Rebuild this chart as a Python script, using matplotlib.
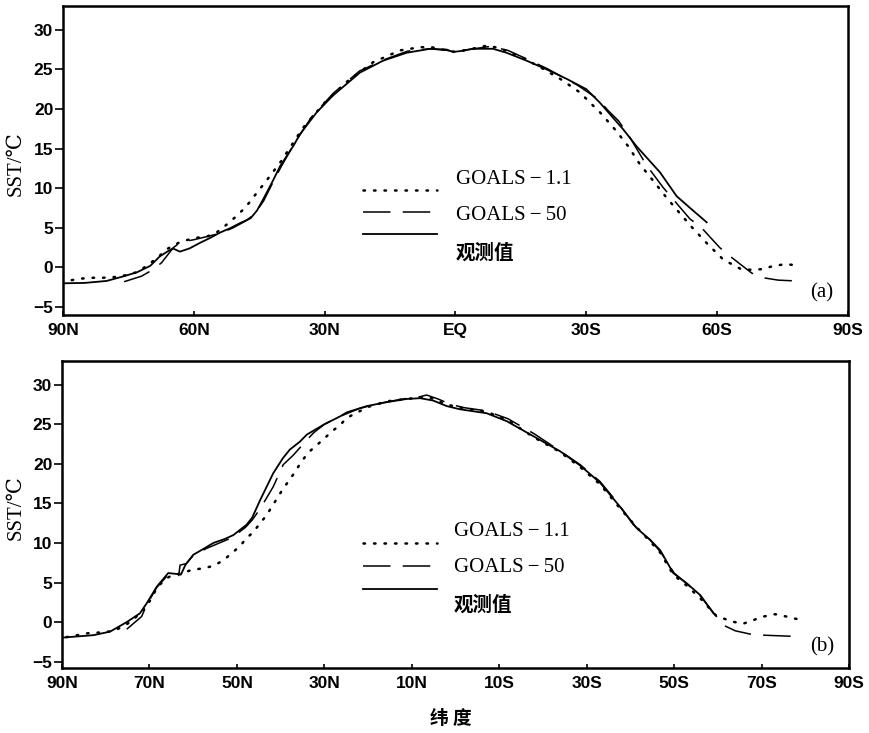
import matplotlib
matplotlib.use("Agg")
import matplotlib.pyplot as plt
from matplotlib.lines import Line2D

# ---------------- data (latitude: + = N, - = S ; SST in degC) ----------------
# panel (a)
a_obs_lat = [90, 85, 80, 76, 73, 70, 67.8, 65.8, 64.8, 63.2, 61, 58.6, 56, 54, 51.5, 49.4, 47, 45.5, 44.1, 42,
             40.2, 37, 35.7, 31.8, 28.1, 21.9, 16.6, 11.2, 5.8, 2, 0.6, -1, -4, -8.6, -11.7, -16.3, -20.9, -25.5,
             -30, -33.1, -38.5, -41.5, -46.9, -50.7, -53.8, -57.6]
a_obs_val = [-2.0, -1.95, -1.7, -1.1, -0.6, 0.2, 1.4, 2.1, 2.4, 2.0, 2.4, 3.1, 3.8, 4.4, 5.0, 5.6, 6.2, 7.2, 8.6, 10.8,
             12.8, 15.5, 16.8, 19.6, 21.7, 24.6, 26.1, 27.1, 27.6, 27.5, 27.2, 27.3, 27.6, 27.6, 27.1, 26.1, 25.0, 23.8,
             22.5, 20.8, 17.4, 15.3, 12.0, 9.0, 7.5, 5.7]

a_g11_lat = [88, 85.7, 83, 80.8, 78.1, 75.8, 73.1, 70.5, 67.8, 65.9, 63.2, 61.3, 59.3, 57, 54.8, 52.5, 50.6, 48.7,
             47.1, 45.6, 43.7, 40, 35, 30, 25, 18.9, 12.7, 8.1, 5.5, 3, 0, -3, -7.2, -10, -15, -20, -24, -28.5,
             -31.6, -33.1, -36.6, -39.6, -42.3, -45.4, -48.4, -51.5, -54.5, -57.9, -61.4, -65.6, -68.3, -70.5,
             -72.9, -75.5, -78.2]
a_g11_val = [-1.6, -1.4, -1.3, -1.3, -1.2, -1.0, -0.6, 0.3, 1.5, 2.4, 3.2, 3.5, 3.75, 3.9, 4.4, 5.4, 6.3, 7.3,
             8.3, 9.4, 10.7, 13.4, 17.6, 20.8, 23.4, 25.9, 27.4, 27.8, 27.8, 27.5, 27.2, 27.5, 28.0, 27.7, 26.6, 25.1,
             23.8, 22.1, 20.4, 19.6, 17.4, 15.3, 13.0, 10.9, 8.8, 6.8, 4.9, 2.9, 1.0, -0.25, -0.3, -0.2, 0.2, 0.4, 0.3]

a_g50_lat = [76, 72, 69.3, 67.4, 64.7, 63, 60, 57, 54, 51, 48, 46, 44, 42, 40, 37, 33, 28, 22, 16, 11, 6, 2, 0,
             -3, -8, -12, -16, -21, -25, -28, -32.8, -35, -37.4, -40, -43.8, -47.6, -49.6, -53.8, -56.1, -60.6,
             -63, -67.9, -70.6, -74, -78]
a_g50_val = [-1.8, -1.1, -0.25, 0.6, 2.5, 3.2, 3.5, 3.9, 4.3, 5.0, 5.9, 6.8, 8.4, 10.6, 12.7, 15.6, 19.0, 22.0,
             24.8, 26.3, 27.3, 27.6, 27.4, 27.2, 27.5, 27.9, 27.4, 26.4, 25.1, 23.9, 23.0, 21.2, 19.8, 18.5, 16.4,
             12.9, 10.1, 8.8, 6.1, 5.2, 2.5, 1.4, -0.7, -1.3, -1.6, -1.7]

# panel (b)
b_obs_lat = [89.7, 82.8, 79, 75.2, 72.2, 70.6, 68.3, 65.7, 64, 62.8, 61.8, 60, 57.5, 55.4, 52.8, 50.8, 47.8, 46.5,
             44.7, 41.7, 39.5, 37.9, 35.6, 34, 30, 26.4, 24.9, 20.3, 15.7, 11.2, 8.1, 5.1, 2.0, -1.0, -7.1, -11.7,
             -17.8, -23.9, -28.5, -33.1, -37.6, -41.4, -44.5, -46.8, -49.8, -52.9, -56, -59]
b_obs_val = [-1.95, -1.65, -1.2, 0.0, 1.1, 2.4, 4.5, 6.2, 6.1, 6.0, 7.2, 8.5, 9.3, 10.0, 10.5, 11.0, 12.3, 13.2,
             15.4, 18.8, 20.7, 21.8, 22.8, 23.7, 25.0, 26.0, 26.5, 27.3, 27.8, 28.2, 28.3, 28.0, 27.3, 26.9, 26.4,
             25.4, 23.5, 21.6, 19.8, 17.6, 14.6, 11.9, 10.4, 9.1, 6.2, 4.9, 3.4, 1.1]

b_g11_lat = [89, 86, 84, 81, 78, 75, 72.5, 70.6, 68.3, 66.5, 64.9, 62.5, 60.3, 57.7, 55.4, 53.1, 51.2, 49.3, 47.8,
             46.2, 44.7, 43.2, 42.0, 40.5, 39.4, 37.9, 36.7, 35.2, 33.7, 32.1, 30.2, 28.3, 26.4, 24.9, 20, 15.7,
             11.2, 8, 5.5, 2, -1, -7, -11.7, -17.8, -23.9, -28.5, -33.1, -37.6, -41.4, -44.5, -46.8, -49.8, -52.9,
             -56, -59.7, -63.5, -65.8, -68.1, -70.4, -73.1, -75.7, -78]
b_g11_val = [-1.9, -1.6, -1.4, -1.3, -1.1, -0.2, 0.9, 2.0, 4.3, 5.4, 5.9, 6.2, 6.6, 6.8, 7.1, 7.8, 8.7, 9.6, 10.6,
             11.4, 12.5, 13.5, 14.6, 15.9, 16.9, 18.0, 19.0, 20.3, 21.4, 22.2, 23.1, 24.1, 24.9, 25.8, 27.2, 27.9,
             28.2, 28.4, 28.3, 27.5, 27.1, 26.6, 25.6, 23.4, 21.5, 19.6, 17.4, 14.4, 12.0, 10.2, 8.8, 6.0, 4.6,
             3.0, 0.76, 0.04, -0.2, 0.25, 0.7, 1.0, 0.7, 0.4]

b_g50_lat = [75.2, 71.8, 70.6, 68.3, 65.7, 63.3, 63.0, 61.6, 60, 57, 54, 51, 48, 46.5, 44.7, 41.7, 39.4, 37.1, 35,
             32.5, 30, 26.4, 22, 17, 12, 8, 6.6, 4, 1, -2, -7, -12, -18, -24, -28.5, -33, -36.9, -40.7, -44.5,
             -47, -50, -53, -56, -59, -61.3, -64, -68.1, -70.4, -77.3]
b_g50_val = [-0.9, 0.7, 2.2, 4.4, 6.0, 5.9, 7.2, 7.4, 8.4, 9.3, 10.0, 10.7, 12.0, 12.9, 14.3, 17.1, 19.9, 21.1, 22.4,
             23.9, 25.0, 26.0, 27.0, 27.7, 28.2, 28.5, 28.7, 28.2, 27.5, 27.1, 26.7, 25.7, 23.8, 21.6, 19.9, 17.8,
             15.2, 12.3, 10.4, 8.8, 6.2, 4.8, 3.3, 1.2, -0.4, -1.1, -1.6, -1.65, -1.8]

a_xticks = [90, 60, 30, 0, -30, -60, -90]
a_xlabels = ["90N", "60N", "30N", "EQ", "30S", "60S", "90S"]
b_xticks = [90, 70, 50, 30, 10, -10, -30, -50, -70, -90]
b_xlabels = ["90N", "70N", "50N", "30N", "10N", "10S", "30S", "50S", "70S", "90S"]
yticks = [-5, 0, 5, 10, 15, 20, 25, 30]

legend_labels = ["GOALS\u2009\u2212\u20091.1", "GOALS\u2009\u2212\u200950", "观测值"]

# ---------------- figure ----------------
W, H = 870, 733
fig = plt.figure(figsize=(W / 100, H / 100), dpi=100)

def px(x, y):
    return x / W, 1 - y / H

serif = ["Liberation Serif", "DejaVu Serif", "Noto Sans CJK SC"]
cjk = ["Noto Sans CJK SC", "DejaVu Sans"]

dot_style = dict(color="black", lw=1.8, linestyle=(0, (0.6, 3.6)), dash_capstyle="round", solid_capstyle="round")
dash_style = dict(color="black", lw=1.1, linestyle=(0, (18, 8)))
solid_style = dict(color="black", lw=1.3)

def make_panel(rect, ylim, xticks, xlabels, obs, g11, g50, tag, tagpos, legend_rows):
    ax = fig.add_axes(rect)
    ax.plot(g11[0], g11[1], **dot_style)
    ax.plot(g50[0], g50[1], **dash_style)
    ax.plot(obs[0], obs[1], **solid_style)
    ax.set_xlim(90, -90)
    ax.set_ylim(*ylim)
    ax.set_xticks(xticks)
    ax.set_xticklabels(xlabels)
    ax.set_yticks(yticks)
    ax.set_yticklabels([str(v).replace("-", "\u2212") for v in yticks])
    for lab in ax.get_xticklabels() + ax.get_yticklabels():
        lab.set_fontfamily(["Liberation Sans", "DejaVu Sans"])
        lab.set_fontweight("bold")
        lab.set_fontsize(12.5)
    ax.tick_params(axis="x", direction="in", length=3, width=1.2, pad=6)
    ax.tick_params(axis="y", direction="out", length=5.5, width=1.2, pad=1.5)
    for sp in ax.spines.values():
        sp.set_linewidth(1.8)
    ax.set_ylabel("SST/\u2103", fontfamily=serif, fontsize=15)
    # legend (manual)
    styles = [dot_style, dash_style, solid_style]
    (lx0, lx1), line_ys, text_x, text_ys = legend_rows
    for st, ly, lab, ty in zip(styles, line_ys, legend_labels, text_ys):
        x0, y0 = px(lx0, ly)
        x1, _ = px(lx1, ly)
        fig.add_artist(Line2D([x0, x1], [y0, y0], transform=fig.transFigure, **st))
        tx, tyy = px(text_x, ty)
        if lab == "观测值":
            fig.text(tx, tyy, lab, fontfamily=cjk, fontweight="bold", fontsize=14, va="center", ha="left")
        else:
            fig.text(tx, tyy, lab, fontfamily=serif, fontsize=15, va="center", ha="left")
    tx, ty = px(*tagpos)
    fig.text(tx, ty, tag, fontfamily=serif, fontsize=15, va="center", ha="center")
    return ax

axA = make_panel([63 / W, 1 - 315 / H, 785 / W, 309 / H], (-6, 33), a_xticks, a_xlabels,
                 (a_obs_lat, a_obs_val), (a_g11_lat, a_g11_val), (a_g50_lat, a_g50_val),
                 "(a)", (822, 293),
                 ((363, 437), (190, 212, 234), 456, (180, 215, 253)))
axB = make_panel([62 / W, 1 - 668 / H, 787 / W, 307 / H], (-5.8, 33), b_xticks, b_xlabels,
                 (b_obs_lat, b_obs_val), (b_g11_lat, b_g11_val), (b_g50_lat, b_g50_val),
                 "(b)", (822, 647),
                 ((363, 437), (543, 566, 589), 454, (532, 568, 605)))

axA.yaxis.set_label_coords(-37 / 785, (315 - 164) / 309)
axB.yaxis.set_label_coords(-36 / 787, (668 - 508) / 307)

fx, fy = px(451, 718)
fig.text(fx, fy, "纬 度", fontfamily=cjk, fontweight="bold", fontsize=13.5, ha="center", va="center")

fig.savefig("out.png", dpi=100)
